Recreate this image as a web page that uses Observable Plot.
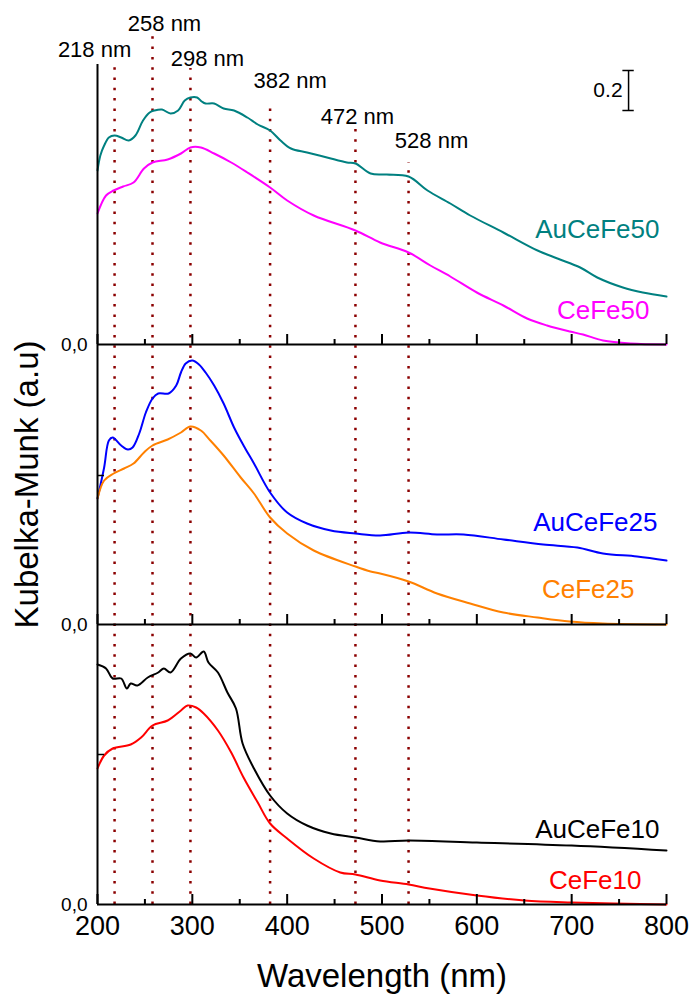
<!DOCTYPE html>
<html><head><meta charset="utf-8">
<script src="https://cdn.jsdelivr.net/npm/d3@7"></script>
<script src="https://cdn.jsdelivr.net/npm/@observablehq/plot@0.6"></script>
<style>body{margin:0;background:#fff}</style>
</head><body><div id="chart"></div>
<script>
// ---- data (Kubelka-Munk, a.u., relative to each panel's own 0,0) ----
const au50_nm = [200,203,207,212,218,225,233,240,248,255,260,268,277,285,292,298,305,310,314,323,333,344,358,369,382,393,404,421,442,463,472,488,505,528,548,572,593,628,664,685,709,727,754,775,800];
const au50_v  = [0.87,0.945,0.995,1.035,1.045,1.035,1.02,1.045,1.12,1.16,1.17,1.175,1.155,1.17,1.22,1.235,1.235,1.215,1.205,1.205,1.18,1.17,1.135,1.10,1.07,1.02,0.98,0.96,0.935,0.91,0.905,0.855,0.85,0.84,0.77,0.705,0.645,0.56,0.47,0.43,0.385,0.335,0.285,0.26,0.24];
const ce50_nm = [200,209,217,227,238,249,258,274,288,298,309,323,341,358,382,400,428,472,498,528,551,572,600,628,653,674,698,712,733,762,800];
const ce50_v  = [0.655,0.745,0.77,0.79,0.81,0.88,0.91,0.925,0.955,0.985,0.985,0.955,0.91,0.86,0.785,0.72,0.645,0.57,0.51,0.46,0.395,0.34,0.26,0.195,0.13,0.095,0.065,0.05,0.02,0.005,0];
const au25_nm = [200,207,212,216,225,232,237,244,251,258,264,275,283,288,293,300,307,314,323,333,344,354,365,382,400,421,446,472,498,528,558,586,628,670,706,733,769,800];
const au25_v  = [0.63,0.785,0.92,0.935,0.895,0.875,0.885,0.955,1.06,1.13,1.155,1.155,1.195,1.26,1.305,1.32,1.30,1.26,1.195,1.105,0.985,0.895,0.805,0.66,0.56,0.505,0.47,0.455,0.445,0.46,0.45,0.45,0.425,0.40,0.385,0.355,0.34,0.32];
const ce25_nm = [200,207,217,228,238,249,258,274,288,298,309,319,333,351,365,382,400,428,472,488,498,528,558,593,628,664,698,733,800];
const ce25_v  = [0.63,0.72,0.755,0.78,0.805,0.86,0.895,0.925,0.96,0.99,0.97,0.92,0.845,0.735,0.655,0.535,0.455,0.37,0.29,0.265,0.255,0.215,0.155,0.105,0.06,0.035,0.015,0.005,0];
const au10_nm = [200,209,216,225,231,235,242,253,264,270,277,288,298,304,312,317,327,337,346,353,365,382,400,421,446,472,498,528,600,700,800];
const au10_v  = [1.20,1.18,1.13,1.13,1.08,1.105,1.095,1.135,1.16,1.18,1.16,1.23,1.255,1.235,1.265,1.21,1.16,1.06,0.98,0.805,0.68,0.545,0.455,0.395,0.355,0.335,0.315,0.32,0.31,0.295,0.27];
const ce10_nm = [200,207,216,235,246,258,274,288,295,304,312,327,341,354,369,382,400,428,456,472,498,528,550,600,650,700,800];
const ce10_v  = [0.68,0.745,0.78,0.80,0.835,0.895,0.92,0.97,0.995,0.985,0.955,0.87,0.76,0.635,0.51,0.405,0.33,0.23,0.16,0.15,0.12,0.10,0.08,0.045,0.02,0.01,0];

const seriesNames = ["AuCeFe50","CeFe50","AuCeFe25","CeFe25","AuCeFe10","CeFe10"];
const seriesColors = ["#008080","#FF00FF","#0000FF","#FF8000","#000000","#FF0000"];
const peaks = [218,258,298,382,472,528];
const xTicks = [200,300,400,500,600,700,800];
const xMinorTicks = [250,350,450,550,650,750];
const zeroLabel = "0,0";
const scaleBarValue = 0.2;
const xTitle = "Wavelength (nm)";
const yTitle = "Kubelka-Munk (a.u)";

// ---- layout ----
const W = 693, H = 1001, mL = 97, mR = 27, mT = 64, mB = 97;
const yMax = 4.2;                       // 200 px per unit
const pxPerUnit = (H - mT - mB) / yMax;
const pxToY = py => (H - mB - py) / pxPerUnit;
const panelOffset = [2.8, 2.8, 1.4, 1.4, 0, 0];
const panelBases = [0, 1.4, 2.8];
const ruleTopPx = [65, 33, 68, 102, 127, 162];
const peakLabelDx = [-20, 12, 17, 20, 2, 23];
const peakLabelDy = [-15, -41, -6, 16, 52, 76];
const labelRightPx = [659, 649, 657, 634, 659, 641];
const labelCenterPx = [229, 310, 522, 589, 829, 880];
const xPx = W - mR;

const nmArr = [au50_nm, ce50_nm, au25_nm, ce25_nm, au10_nm, ce10_nm];
const vArr = [au50_v, ce50_v, au25_v, ce25_v, au10_v, ce10_v];
const rows = [];
seriesNames.forEach((s, i) => nmArr[i].forEach((nm, j) => rows.push({series: s, nm, y: vArr[i][j] + panelOffset[i]})));

const majorT = [], minorT = [];
panelBases.forEach(b => { xTicks.forEach(x => majorT.push({x, b})); xMinorTicks.forEach(x => minorT.push({x, b})); });

const labels = seriesNames.map((s, i) => ({s, c: seriesColors[i], y: pxToY(labelCenterPx[i]), dx: labelRightPx[i] - xPx}));
const sans = "Liberation Sans, Arial, Helvetica, sans-serif";
const barX = 760, barY0 = pxToY(110);

const chart = Plot.plot({
  width: W, height: H,
  marginLeft: mL, marginRight: mR, marginTop: mT, marginBottom: mB,
  style: {fontFamily: sans, background: "white", color: "black"},
  x: {domain: [200, 800]},
  y: {domain: [0, yMax], axis: null},
  color: {domain: seriesNames, range: seriesColors},
  marks: [
    Plot.ruleX(peaks, {x: d => d, y1: 0, y2: (d, i) => pxToY(ruleTopPx[i]), stroke: "#8B0000", strokeWidth: 2.5, strokeDasharray: "2.5,7.8"}),
    Plot.line(rows, {x: "nm", y: "y", z: "series", stroke: "series", strokeWidth: 2, curve: "catmull-rom"}),
    Plot.ruleY(panelBases, {x1: 200, x2: 800, strokeWidth: 2}),
    Plot.ruleX([200], {y1: 0, y2: yMax, strokeWidth: 2}),
    Plot.ruleX(majorT, {x: "x", y1: "b", y2: d => d.b + 10 / pxPerUnit, strokeWidth: 2}),
    Plot.ruleX(minorT, {x: "x", y1: "b", y2: d => d.b + 5 / pxPerUnit, strokeWidth: 2}),
    Plot.ruleY([1.4 + 0.745, 0.75], {x1: 200, x2: 200 + 7 * 600 / (W - mL - mR), strokeWidth: 1.5}),
    Plot.text(panelBases, {x: 200, y: d => d, text: () => zeroLabel, textAnchor: "end", dx: -10, fontSize: 19}),
    ...peaks.map((p, i) => Plot.text([p], {x: d => d, text: d => `${d} nm`, frameAnchor: "top", lineAnchor: "middle", dx: peakLabelDx[i], dy: peakLabelDy[i], fontSize: 22})),
    ...labels.map(l => Plot.text([l], {x: 800, y: "y", text: "s", fill: l.c, textAnchor: "end", lineAnchor: "middle", dx: l.dx, fontSize: 26})),
    Plot.ruleX([barX], {y1: barY0, y2: barY0 + scaleBarValue, strokeWidth: 1.5}),
    Plot.ruleY([barY0, barY0 + scaleBarValue], {x1: barX - 6, x2: barX + 6, strokeWidth: 1.5}),
    Plot.text([scaleBarValue], {x: barX, y: barY0 + scaleBarValue / 2, text: d => String(d), textAnchor: "end", dx: -6, fontSize: 21}),
    Plot.axisX({ticks: xTicks, tickSize: 0, tickPadding: 11, fontSize: 27, label: null}),
    Plot.text([xTitle], {frameAnchor: "bottom", textAnchor: "middle", lineAnchor: "middle", dy: 72, fontSize: 33}),
    Plot.text([yTitle], {frameAnchor: "left", textAnchor: "middle", lineAnchor: "middle", rotate: -90, dx: -70, fontSize: 33})
  ]
});
document.getElementById("chart").appendChild(chart);
</script></body></html>
